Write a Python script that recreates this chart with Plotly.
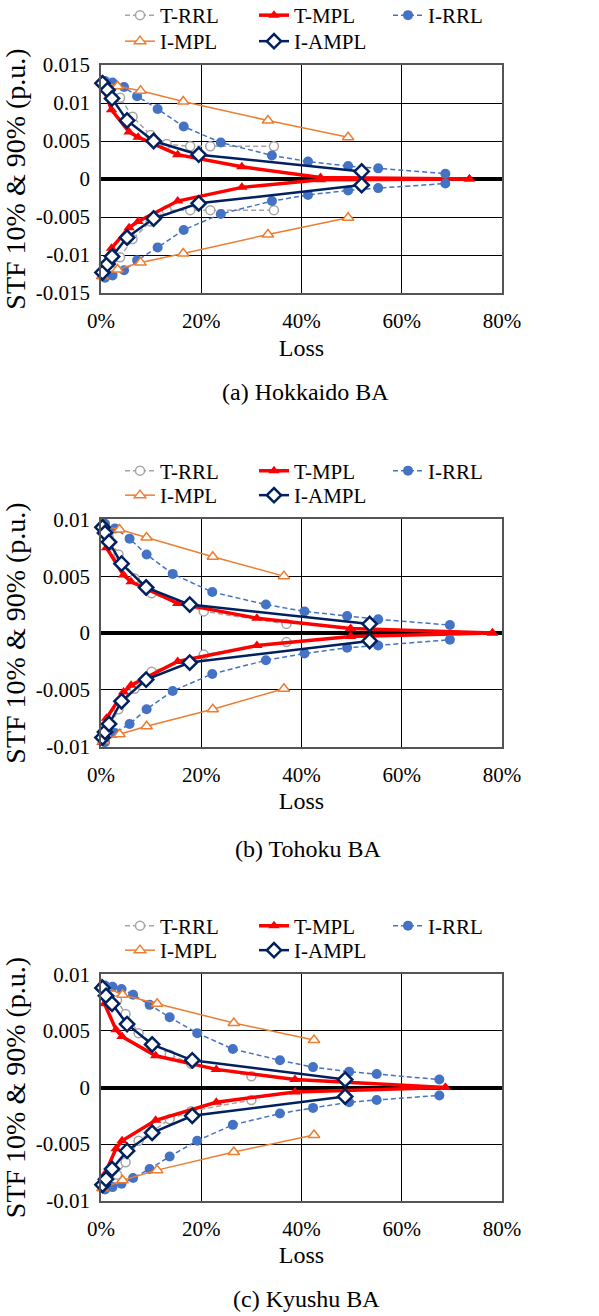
import plotly.graph_objects as go

W, H = 599, 1316

# ---------------- data ----------------
SERIES = ["T-RRL", "T-MPL", "I-RRL", "I-MPL", "I-AMPL"]
CAPTIONS = ["(a) Hokkaido BA", "(b) Tohoku BA", "(c) Kyushu BA"]
X_TICKVALS = [0, 20, 40, 60, 80]
X_TICKTEXT = ["0%", "20%", "40%", "60%", "80%"]
Y_TICKVALS_A = [-0.015, -0.01, -0.005, 0, 0.005, 0.01, 0.015]
Y_TICKTEXT_A = ["-0.015", "-0.01", "-0.005", "0", "0.005", "0.01", "0.015"]
Y_TICKVALS_BC = [-0.01, -0.005, 0, 0.005, 0.01]
Y_TICKTEXT_BC = ["-0.01", "-0.005", "0", "0.005", "0.01"]

# (a) Hokkaido BA  (x = loss in %, up = STF 90%, lo = STF 10%)
A_TRRL_X = [0.5, 1.8, 3.8, 6.3, 9.9, 13.1, 17.8, 21.8, 34.5]
A_TRRL_UP = [0.0127, 0.0118, 0.0107, 0.0082, 0.0058, 0.0046, 0.0043, 0.0043, 0.0043]
A_TRRL_LO = [-0.0127, -0.0118, -0.0103, -0.0079, -0.0056, -0.0041, -0.0041, -0.0041, -0.0041]
A_TMPL_X = [0.1, 2.1, 5.6, 7.4, 15.3, 28.1, 43.8, 73.5]
A_TMPL_UP = [0.0127, 0.0091, 0.0062, 0.0055, 0.0032, 0.0016, 0.0002, 0.0]
A_TMPL_LO = [-0.0128, -0.0091, -0.0064, -0.0056, -0.0029, -0.0011, -0.0001, 0.0]
A_IRRL_X = [0.8, 2.3, 4.6, 7.2, 11.3, 16.5, 23.9, 34.1, 41.3, 49.3, 55.3, 68.7]
A_IRRL_UP = [0.0129, 0.0127, 0.0121, 0.0109, 0.0092, 0.0069, 0.0048, 0.0031, 0.0023, 0.0017, 0.0014, 0.0007]
A_IRRL_LO = [-0.0130, -0.0127, -0.0120, -0.0107, -0.0090, -0.0067, -0.0046, -0.0029, -0.0021, -0.0015, -0.0012, -0.0006]
A_IMPL_X = [0.3, 3.3, 7.9, 16.4, 33.3, 49.3]
A_IMPL_UP = [0.0128, 0.0122, 0.0116, 0.0102, 0.0077, 0.0055]
A_IMPL_LO = [-0.0128, -0.0119, -0.0110, -0.0098, -0.0073, -0.0051]
A_IAMPL_X = [0.3, 1.3, 2.2, 5.2, 10.5, 19.5, 52.0]
A_IAMPL_UP = [0.0126, 0.0117, 0.0106, 0.0077, 0.0050, 0.0032, 0.0010]
A_IAMPL_LO = [-0.0123, -0.0112, -0.0102, -0.0077, -0.0052, -0.0032, -0.0008]

# (b) Tohoku BA
B_TRRL_X = [0.5, 1.5, 3.5, 6.7, 10.1, 20.5, 37.0]
B_TRRL_UP = [0.0093, 0.0085, 0.0069, 0.0048, 0.0035, 0.0019, 0.0008]
B_TRRL_LO = [-0.0093, -0.0085, -0.0067, -0.0049, -0.0034, -0.0019, -0.0008]
B_TMPL_X = [0.2, 1.1, 4.5, 6.0, 15.3, 31.1, 49.8, 78.1]
B_TMPL_UP = [0.0094, 0.0075, 0.0051, 0.0045, 0.0026, 0.0013, 0.0004, 0.0]
B_TMPL_LO = [-0.0096, -0.0075, -0.0052, -0.0046, -0.0025, -0.0011, -0.0003, 0.0]
B_IRRL_X = [0.8, 2.8, 5.7, 9.1, 14.3, 22.2, 32.9, 40.6, 49.1, 55.3, 69.6]
B_IRRL_UP = [0.0096, 0.0092, 0.0083, 0.0069, 0.0052, 0.0036, 0.0025, 0.0019, 0.0015, 0.0012, 0.0007]
B_IRRL_LO = [-0.0096, -0.0088, -0.0080, -0.0067, -0.0051, -0.0036, -0.0024, -0.0018, -0.0013, -0.0011, -0.0006]
B_IMPL_X = [0.5, 3.7, 9.1, 22.3, 36.5]
B_IMPL_UP = [0.0094, 0.0091, 0.0084, 0.0067, 0.0050]
B_IMPL_LO = [-0.0095, -0.0089, -0.0082, -0.0067, -0.0049]
B_IAMPL_X = [0.3, 0.8, 1.6, 4.1, 9.0, 17.7, 53.6]
B_IAMPL_UP = [0.0093, 0.0088, 0.0080, 0.0061, 0.0040, 0.0025, 0.0008]
B_IAMPL_LO = [-0.0092, -0.0087, -0.0080, -0.0060, -0.0041, -0.0026, -0.0007]

# (c) Kyushu BA
C_TRRL_X = [0.5, 3.2, 4.9, 7.5, 13.7, 18.0, 30.0]
C_TRRL_UP = [0.0087, 0.0077, 0.0065, 0.0048, 0.0029, 0.0021, 0.0010]
C_TRRL_LO = [-0.0087, -0.0077, -0.0066, -0.0047, -0.0028, -0.0021, -0.0011]
C_TMPL_X = [0.2, 0.7, 3.0, 4.2, 10.9, 23.0, 38.7, 68.7]
C_TMPL_UP = [0.0092, 0.0074, 0.0051, 0.0045, 0.0028, 0.0016, 0.0007, 0.0]
C_TMPL_LO = [-0.0089, -0.0077, -0.0054, -0.0047, -0.0029, -0.0013, -0.0004, 0.0]
C_IRRL_X = [0.8, 2.3, 4.1, 6.4, 9.7, 13.7, 19.2, 26.3, 35.7, 42.3, 49.5, 55.0, 67.5]
C_IRRL_UP = [0.0090, 0.0089, 0.0087, 0.0082, 0.0073, 0.0062, 0.0048, 0.0034, 0.0024, 0.0018, 0.0014, 0.0012, 0.0007]
C_IRRL_LO = [-0.0090, -0.0088, -0.0085, -0.0080, -0.0072, -0.0061, -0.0047, -0.0033, -0.0023, -0.0018, -0.0013, -0.0011, -0.0007]
C_IMPL_X = [0.3, 4.3, 11.2, 26.5, 42.5]
C_IMPL_UP = [0.0090, 0.0082, 0.0074, 0.0057, 0.0042]
C_IMPL_LO = [-0.0089, -0.0082, -0.0073, -0.0057, -0.0042]
C_IAMPL_X = [0.3, 1.0, 2.2, 5.2, 10.2, 18.2, 48.7]
C_IAMPL_UP = [0.0088, 0.0081, 0.0074, 0.0056, 0.0038, 0.0024, 0.0007]
C_IAMPL_LO = [-0.0086, -0.0081, -0.0072, -0.0056, -0.0040, -0.0025, -0.0008]

PANELS = [
    [(A_TRRL_X, A_TRRL_UP, A_TRRL_LO), (A_TMPL_X, A_TMPL_UP, A_TMPL_LO),
     (A_IRRL_X, A_IRRL_UP, A_IRRL_LO), (A_IMPL_X, A_IMPL_UP, A_IMPL_LO),
     (A_IAMPL_X, A_IAMPL_UP, A_IAMPL_LO)],
    [(B_TRRL_X, B_TRRL_UP, B_TRRL_LO), (B_TMPL_X, B_TMPL_UP, B_TMPL_LO),
     (B_IRRL_X, B_IRRL_UP, B_IRRL_LO), (B_IMPL_X, B_IMPL_UP, B_IMPL_LO),
     (B_IAMPL_X, B_IAMPL_UP, B_IAMPL_LO)],
    [(C_TRRL_X, C_TRRL_UP, C_TRRL_LO), (C_TMPL_X, C_TMPL_UP, C_TMPL_LO),
     (C_IRRL_X, C_IRRL_UP, C_IRRL_LO), (C_IMPL_X, C_IMPL_UP, C_IMPL_LO),
     (C_IAMPL_X, C_IAMPL_UP, C_IAMPL_LO)],
]

# ---------------- styles ----------------
FONT = "Liberation Serif"
STYLES = {
    "T-RRL": dict(line=dict(color="#A5A5A5", width=1.5, dash="5px,3px"),
                  marker=dict(symbol="circle", size=9, color="white",
                              line=dict(color="#A5A5A5", width=1.5))),
    "T-MPL": dict(line=dict(color="#FF0000", width=3.5),
                  marker=dict(symbol="triangle-up", size=10, color="#FF0000",
                              line=dict(color="#FF0000", width=0))),
    "I-RRL": dict(line=dict(color="#4472C4", width=1.5, dash="5px,3px"),
                  marker=dict(symbol="circle", size=10, color="#4472C4",
                              line=dict(color="#4472C4", width=0))),
    "I-MPL": dict(line=dict(color="#ED7D31", width=1.5),
                  marker=dict(symbol="triangle-up", size=10, color="white",
                              line=dict(color="#ED7D31", width=1.5))),
    "I-AMPL": dict(line=dict(color="#002060", width=2.5),
                   marker=dict(symbol="diamond", size=11, color="white",
                               line=dict(color="#002060", width=2.5))),
}

# pixel layout of each panel: (top, bottom) of plot area, legend rows, caption
PLOT_LEFT, PLOT_RIGHT = 101, 502
PANEL_PX = [
    dict(top=65, bottom=293, rows=(15.5, 41.5), cap=(305, 392)),
    dict(top=519.3, bottom=746.7, rows=(471, 495.5), cap=(308, 849)),
    dict(top=974.3, bottom=1200.7, rows=(926, 950.5), cap=(307, 1299)),
]
LEG_COLS = [121, 255, 389]
LEG_SLOTS = [(0, 0), (0, 1), (0, 2), (1, 0), (1, 1)]


def px_x(p):
    return p / W


def px_y(p):
    return 1 - p / H


fig = go.Figure()
layout = dict(
    width=W, height=H, margin=dict(l=0, r=0, t=0, b=0, autoexpand=False),
    paper_bgcolor="white", plot_bgcolor="white", showlegend=True,
    font=dict(family=FONT, color="black", size=20),
    annotations=[],
)

leg_idx = 0
for pi, panel in enumerate(PANELS):
    ax = "" if pi == 0 else str(pi + 1)
    geom = PANEL_PX[pi]
    for si, (xs, up, lo) in enumerate(panel):
        name = SERIES[si]
        leg_idx += 1
        leg_name = "legend" if leg_idx == 1 else "legend%d" % leg_idx
        st = STYLES[name]
        fig.add_trace(go.Scatter(
            x=list(xs) + [None] + list(xs),
            y=list(up) + [None] + list(lo),
            mode="lines+markers", name=name, showlegend=True,
            line=st["line"], marker=st["marker"],
            xaxis="x" + ax, yaxis="y" + ax,
            legend=leg_name, cliponaxis=False, connectgaps=False,
        ))
        r, c = LEG_SLOTS[si]
        layout[leg_name] = dict(
            x=px_x(LEG_COLS[c] - 1), y=px_y(geom["rows"][r]),
            xanchor="left", yanchor="middle", orientation="h",
            bgcolor="rgba(0,0,0,0)", borderwidth=0, visible=True,
            font=dict(family=FONT, size=21, color="black"),
        )

    ydom = [px_y(geom["bottom"]), px_y(geom["top"])]
    if pi == 0:
        yv, yt, yr = Y_TICKVALS_A, Y_TICKTEXT_A, [-0.015, 0.015]
    else:
        yv, yt, yr = Y_TICKVALS_BC, Y_TICKTEXT_BC, [-0.01, 0.01]
    layout["xaxis" + ax] = dict(
        domain=[px_x(PLOT_LEFT), px_x(PLOT_RIGHT)], anchor="y" + ax,
        range=[0, 80], tickvals=X_TICKVALS, ticktext=X_TICKTEXT,
        showgrid=True, gridcolor="black", gridwidth=1,
        showline=True, linecolor="#555555", linewidth=1.5, mirror=True,
        zeroline=False, ticks="", ticklabelstandoff=8,
        tickfont=dict(family=FONT, size=21, color="black"),
        title=dict(text="Loss", font=dict(family=FONT, size=24, color="black"),
                   standoff=7),
    )
    layout["yaxis" + ax] = dict(
        domain=ydom, anchor="x" + ax, range=yr,
        tickvals=yv, ticktext=yt,
        showgrid=True, gridcolor="black", gridwidth=1,
        showline=True, linecolor="#555555", linewidth=1.5, mirror=True,
        zeroline=True, zerolinecolor="black", zerolinewidth=3.5,
        ticks="", ticklabelstandoff=5,
        tickfont=dict(family=FONT, size=21, color="black"),
        title=dict(text="STF 10% &amp; 90% (p.u.)",
                   font=dict(family=FONT, size=28, color="black"), standoff=2),
    )
    cx, cy = geom["cap"]
    layout["annotations"].append(dict(
        text=CAPTIONS[pi], x=px_x(cx), y=px_y(cy), xref="paper", yref="paper",
        xanchor="center", yanchor="middle", showarrow=False,
        font=dict(family=FONT, size=24, color="black"),
    ))

fig.update_layout(**layout)
fig.write_html("out.html")
